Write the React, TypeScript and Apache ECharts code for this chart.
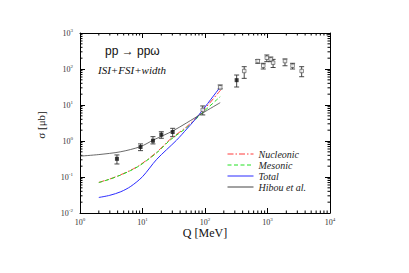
import React, { useEffect, useRef } from "react";
import * as echarts from "echarts";

// Curves: [Q (MeV), sigma (microbarn)]
const nucleonic: [number, number][] = [
  [2, 0.071], [3, 0.088], [4.4, 0.114], [6.5, 0.155], [9.1, 0.215], [16.9, 0.49],
  [27.5, 1.1], [51, 2.5], [69, 4.1], [92, 6.8], [178, 26],
];
const mesonic: [number, number][] = [
  [2, 0.07], [3, 0.087], [4.4, 0.112], [6.5, 0.152], [9.1, 0.21], [16.9, 0.47],
  [27.5, 1.05], [51, 2.35], [69, 3.8], [92, 6.2], [175, 17],
];
const total: [number, number][] = [
  [2, 0.027], [3, 0.031], [4.5, 0.039], [6.5, 0.055], [10, 0.102], [16.9, 0.31],
  [35, 1.05], [51, 2.15], [69, 3.9], [92, 7.3], [174, 31],
];
const hibou: [number, number][] = [
  [1, 0.38], [2, 0.42], [4.4, 0.5], [9.3, 0.7], [15, 1.07], [30.5, 1.9],
  [51, 3.2], [69, 4.4], [92, 6.0], [175, 11.6],
];

// Data points: [Q, sigma, low, high]
const filledPts: [number, number, number, number][] = [
  [3.9, 0.32, 0.23, 0.41],
  [9.3, 0.68, 0.54, 0.83],
  [14.7, 1.02, 0.83, 1.32],
  [20, 1.5, 1.19, 1.81],
  [30.4, 1.78, 1.32, 2.25],
  [321, 49, 31.6, 68],
];
const openPts: [number, number, number, number][] = [
  [92, 7.3, 5.3, 9.4],
  [175, 31, 28, 36],
  [424, 88, 55, 116],
  [698, 166, 144, 182],
  [855, 123, 100, 144],
  [975, 205, 160, 245],
  [1130, 185, 160, 215],
  [1230, 150, 110, 185],
  [1905, 166, 123, 190],
  [2520, 123, 100, 144],
  [3520, 88, 61, 116],
];

const xDecades = [1, 10, 100, 1000];
const yDecades = [0.01, 0.1, 1, 10, 100];
const minorMult = [2, 3, 4, 5, 6, 7, 8, 9];

const SERIF = "'Liberation Serif', 'DejaVu Serif', serif";

export default function App() {
  const ref = useRef<HTMLDivElement>(null);
  useEffect(() => {
    if (!ref.current) return;
    const chart = echarts.init(ref.current, undefined, { renderer: "svg" });

    const xMinor: number[][] = [];
    xDecades.forEach((d) => minorMult.forEach((m) => xMinor.push([m * d, 0.01])));
    const yMinor: number[][] = [];
    yDecades.forEach((d) => minorMult.forEach((m) => yMinor.push([1, m * d])));

    const labelFmt = (v: number) => {
      const e = Math.round(Math.log10(v));
      return `{b|10}{e|${e}}`;
    };
    const rich = {
      b: { fontSize: 8, fontFamily: SERIF, color: "#333" },
      e: { fontSize: 5, fontFamily: SERIF, color: "#333", verticalAlign: "top", padding: [0, 0, 6, 0] },
    };
    const axisCommon = {
      axisLine: { show: true, lineStyle: { color: "#000", width: 1 } },
      axisTick: { show: true, inside: true, length: 5, lineStyle: { color: "#000" } },
      splitLine: { show: false },
    };

    const errBarItem = (params: any, api: any) => {
      const x = api.value(0);
      const lo = api.coord([x, api.value(2)]);
      const hi = api.coord([x, api.value(3)]);
      const w = 2.5;
      const st = { stroke: "#333", lineWidth: 0.9 };
      return {
        type: "group",
        children: [
          { type: "line", shape: { x1: lo[0], y1: lo[1], x2: hi[0], y2: hi[1] }, style: st },
          { type: "line", shape: { x1: lo[0] - w, y1: lo[1], x2: lo[0] + w, y2: lo[1] }, style: st },
          { type: "line", shape: { x1: hi[0] - w, y1: hi[1], x2: hi[0] + w, y2: hi[1] }, style: st },
        ],
      };
    };

    const minorX = (params: any, api: any) => {
      const cs = params.coordSys;
      const p = api.coord([api.value(0), api.value(1)]);
      const st = { stroke: "#000", lineWidth: 1 };
      return {
        type: "group",
        children: [
          { type: "line", shape: { x1: p[0], y1: cs.y + cs.height, x2: p[0], y2: cs.y + cs.height - 2.5 }, style: st },
          { type: "line", shape: { x1: p[0], y1: cs.y, x2: p[0], y2: cs.y + 2.5 }, style: st },
        ],
      };
    };
    const minorY = (params: any, api: any) => {
      const cs = params.coordSys;
      const p = api.coord([api.value(0), api.value(1)]);
      const st = { stroke: "#000", lineWidth: 1 };
      return {
        type: "group",
        children: [
          { type: "line", shape: { x1: cs.x, y1: p[1], x2: cs.x + 2.5, y2: p[1] }, style: st },
          { type: "line", shape: { x1: cs.x + cs.width, y1: p[1], x2: cs.x + cs.width - 2.5, y2: p[1] }, style: st },
        ],
      };
    };

    chart.setOption({
      animation: false,
      backgroundColor: "#fff",
      grid: { left: 80, top: 33, width: 250, height: 180 },
      xAxis: [
        {
          type: "log", logBase: 10, min: 1, max: 10000, position: "bottom",
          ...axisCommon,
          axisLabel: { formatter: labelFmt, rich, margin: 4 },
        },
        {
          type: "log", logBase: 10, min: 1, max: 10000, position: "top",
          ...axisCommon,
          axisLabel: { show: false },
        },
      ],
      yAxis: [
        {
          type: "log", logBase: 10, min: 0.01, max: 1000, position: "left",
          ...axisCommon,
          axisLabel: { formatter: labelFmt, rich, margin: 7 },
        },
        {
          type: "log", logBase: 10, min: 0.01, max: 1000, position: "right",
          ...axisCommon,
          axisLabel: { show: false },
        },
      ],
      legend: {
        orient: "vertical",
        left: 222,
        top: 144,
        itemWidth: 26,
        itemHeight: 10,
        itemGap: 1,
        data: ["Nucleonic", "Mesonic", "Total", "Hibou et al."],
        itemStyle: { color: "transparent", borderWidth: 0, opacity: 0 },
        lineStyle: { width: 1 },
        textStyle: { fontFamily: SERIF, fontStyle: "italic", fontSize: 10, color: "#222" },
      },
      series: [
        { type: "custom", name: "xminor", data: xMinor, renderItem: minorX, silent: true, z: 1 },
        { type: "custom", name: "yminor", data: yMinor, renderItem: minorY, silent: true, z: 1 },
        {
          type: "line", name: "Nucleonic", data: nucleonic, smooth: 0.3, symbol: "none",
          lineStyle: { color: "#ff3b3b", width: 1, type: [6, 2, 1.5, 2] }, itemStyle: { color: "#ff3b3b" },
        },
        {
          type: "line", name: "Mesonic", data: mesonic, smooth: 0.3, symbol: "none",
          lineStyle: { color: "#22e022", width: 1, type: [4, 2.5] }, itemStyle: { color: "#22e022" },
        },
        {
          type: "line", name: "Total", data: total, smooth: 0.3, symbol: "none",
          lineStyle: { color: "#2b2bff", width: 1 }, itemStyle: { color: "#2b2bff" },
        },
        {
          type: "line", name: "Hibou et al.", data: hibou, smooth: 0.3, symbol: "none",
          lineStyle: { color: "#444", width: 0.8 }, itemStyle: { color: "#444" },
        },
        { type: "custom", name: "errF", data: filledPts, renderItem: errBarItem, z: 3, silent: true },
        { type: "custom", name: "errO", data: openPts, renderItem: errBarItem, z: 3, silent: true },
        {
          type: "scatter", name: "filled", data: filledPts.map((p) => [p[0], p[1]]),
          symbol: "rect", symbolSize: 4, itemStyle: { color: "#111" }, z: 4,
        },
        {
          type: "scatter", name: "open", data: openPts.map((p) => [p[0], p[1]]),
          symbol: "rect", symbolSize: 3.5, itemStyle: { color: "#fff", borderColor: "#444", borderWidth: 0.8 }, z: 4,
        },
      ],
      graphic: [
        {
          type: "text", left: 105, top: 45,
          style: { text: "pp \u2192 pp\u03C9", font: "12px 'Liberation Sans', 'DejaVu Sans', sans-serif", fill: "#111" },
        },
        {
          type: "text", left: 98, top: 64,
          style: { text: "ISI+FSI+width", font: `italic 11px ${SERIF}`, fill: "#111" },
        },
        {
          type: "text", x: 41, y: 125, rotation: Math.PI / 2,
          style: { text: "\u03C3 [\u03BCb]", font: `11px ${SERIF}`, fill: "#111", align: "center", verticalAlign: "middle" },
        },
        {
          type: "text", x: 205, y: 233,
          style: { text: "Q [MeV]", font: `12px ${SERIF}`, fill: "#111", align: "center", verticalAlign: "middle" },
        },
      ],
    });
    return () => chart.dispose();
  }, []);
  return <div ref={ref} style={{ position: "fixed", left: 0, top: 0, width: 409, height: 273 }} />;
}
